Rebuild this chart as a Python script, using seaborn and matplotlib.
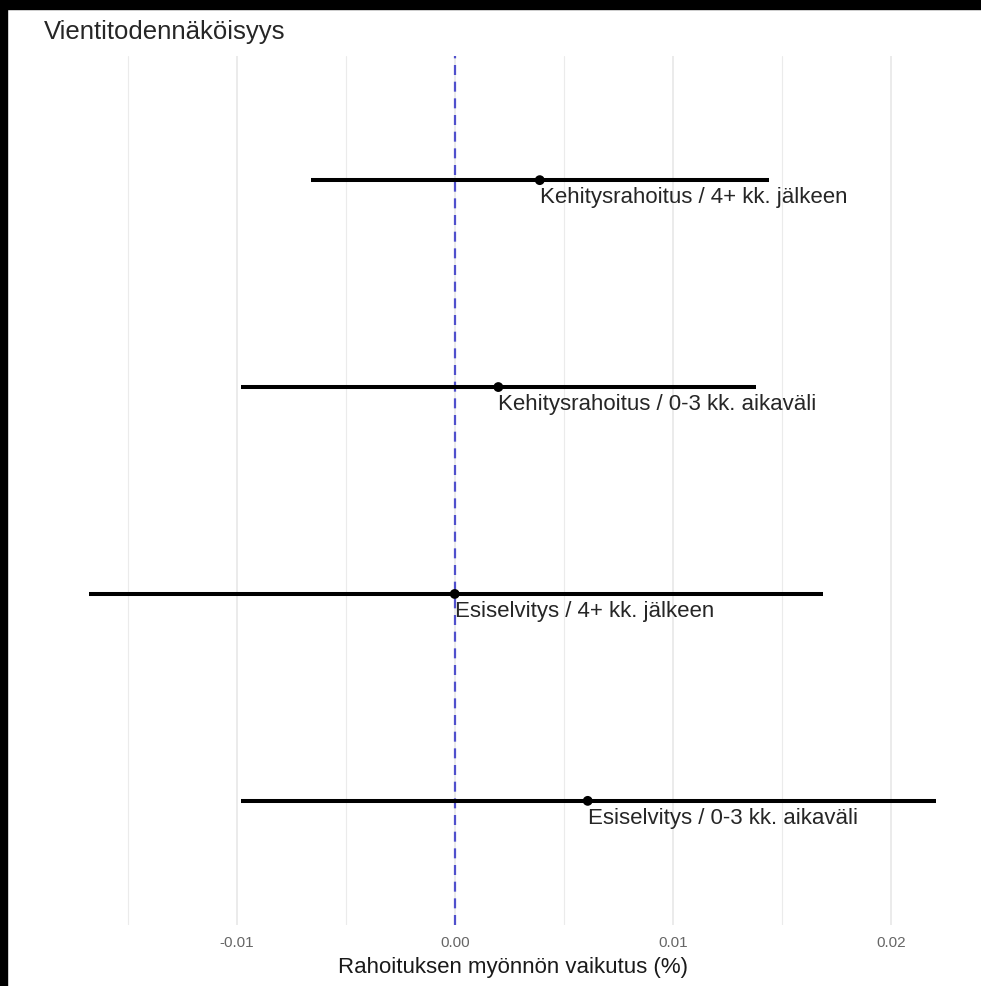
import matplotlib
matplotlib.use("Agg")
import matplotlib.pyplot as plt
import matplotlib.patches as mpatches
import seaborn as sns
import pandas as pd

# estimates with 95% intervals, bottom row first
labels = ['Esiselvitys / 0-3 kk. aikaväli',
          'Esiselvitys / 4+ kk. jälkeen',
          'Kehitysrahoitus / 0-3 kk. aikaväli',
          'Kehitysrahoitus / 4+ kk. jälkeen']
estimate = [0.0061, 0.0000, 0.0020, 0.0039]
lower = [-0.0098, -0.0168, -0.0098, -0.0066]
upper = [0.0221, 0.0169, 0.0138, 0.0144]
xticks = [-0.01, 0.00, 0.01, 0.02]
xticklabels = ['-0.01', '0.00', '0.01', '0.02']
minor_ticks = [-0.015, -0.005, 0.005, 0.015]

df = pd.DataFrame({'label': labels, 'estimate': estimate,
                   'lower': lower, 'upper': upper})
df['pos'] = range(len(df))

sns.set_theme(style='white')
plt.rcParams['font.family'] = ['Liberation Sans', 'DejaVu Sans']

W, H = 981, 986
fig = plt.figure(figsize=(W / 100, H / 100), dpi=100, facecolor='white')

# black edges of the original screenshot
fig.patches.append(mpatches.Rectangle((0, 0), 7 / W, 1, transform=fig.transFigure,
                                      color='black', zorder=-1))
fig.patches.append(mpatches.Rectangle((0, 1 - 9 / H), 1, 9 / H, transform=fig.transFigure,
                                      color='black', zorder=-1))

left, right, top, bottom = 46, 979, 56, 925
ax = fig.add_axes([left / W, 1 - bottom / H, (right - left) / W, (bottom - top) / H])

ax.set_xticks(minor_ticks, minor=True)
ax.set_xticks(xticks)
ax.set_xticklabels(xticklabels)
ax.grid(axis='x', which='major', color='#ebebeb', linewidth=1.4)
ax.grid(axis='x', which='minor', color='#ebebeb', linewidth=0.8)
ax.grid(axis='y', visible=False)
ax.set_axisbelow(True)
for s in ax.spines.values():
    s.set_visible(False)

ax.axvline(0, color='#5050cc', linewidth=1.6, dashes=(4.5, 3), zorder=1)

ax.hlines(df['pos'], df['lower'], df['upper'], color='black', linewidth=2.9, zorder=2)
sns.scatterplot(data=df, x='estimate', y='pos', color='black', s=50,
                edgecolor='none', ax=ax, zorder=3)

for _, r in df.iterrows():
    ax.annotate(r['label'], (r['estimate'], r['pos']), xytext=(0, -7),
                textcoords='offset pixels', ha='left', va='top',
                fontsize=16, color='#262626')

ax.set_xlim(-0.01875, 0.02405)
ax.set_ylim(-0.6, 3.6)
ax.set_yticks([])
ax.set_ylabel('')
ax.tick_params(axis='x', which='both', length=0, pad=8, labelsize=11, labelcolor='#666666')
ax.set_xlabel('Rahoituksen myönnön vaikutus (%)', fontsize=16, color='#1a1a1a', labelpad=5)

fig.text(44 / W, 1 - 32 / H, 'Vientitodennäköisyys', fontsize=18.5, color='#262626',
         ha='left', va='center')

fig.savefig('out.png', dpi=100, facecolor='white')
